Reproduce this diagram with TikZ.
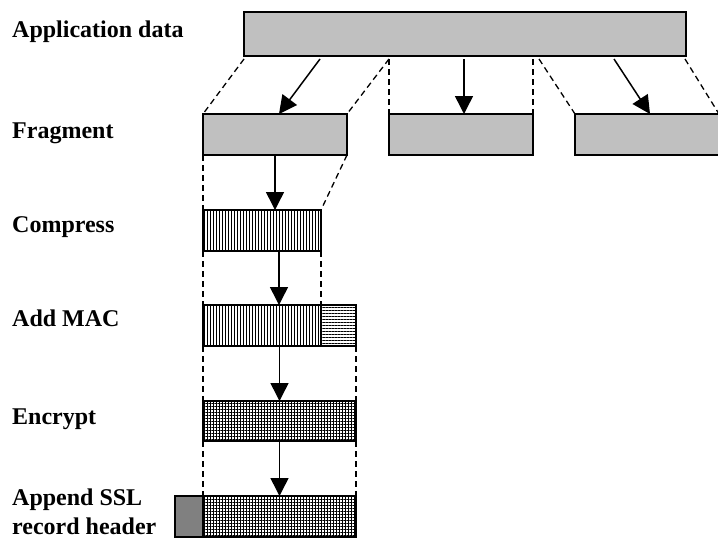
\documentclass[tikz,border=0pt]{standalone}
\usepackage{fontspec}
\setmainfont{Liberation Serif}
\usetikzlibrary{patterns.meta,arrows.meta,calc}
\definecolor{boxgray}{RGB}{192,192,192}
\definecolor{hdrgray}{RGB}{128,128,128}
\begin{document}
\begin{tikzpicture}[x=1pt,y=-1pt,
  blk/.style={draw=black,line width=1.5pt,inner sep=0pt,anchor=north west,outer sep=0pt},
  grayblk/.style={blk,fill=boxgray},
  vblk/.style={blk,fill=white,pattern={Lines[angle=90,distance=3pt,line width=0.45pt]}},
  hblk/.style={blk,fill=white,pattern={Lines[angle=0,distance=3pt,line width=0.45pt]}},
  xblk/.style={blk,fill=white,pattern={Hatch[angle=0,distance=3pt,line width=0.45pt]}},
  lab/.style={anchor=base west,inner sep=0pt,font=\fontsize{24}{29}\selectfont\bfseries,align=left},
  dsh/.style={dash pattern=on 6pt off 4pt,line width=1.3pt},
  arr/.style={line width=1.5pt,-{Triangle[width=18pt,length=18pt]}}
]
\useasboundingbox (0,0) rectangle (718,538);

% labels
\node[lab] (lapp) at (12,37) {Application data};
\node[lab] (lfrag) at (12,138) {Fragment};
\node[lab] (lcomp) at (12,232) {Compress};
\node[lab] (lmac) at (12,326) {Add MAC};
\node[lab] (lenc) at (12,424) {Encrypt};
\node[lab] (lapp2) at (12,534) {Append SSL\\record header};

% boxes
\node[grayblk,minimum width=442pt,minimum height=44pt] (app) at (244,12) {};
\node[grayblk,minimum width=144pt,minimum height=41pt] (f1) at (203,114) {};
\node[grayblk,minimum width=144pt,minimum height=41pt] (f2) at (389,114) {};
\node[grayblk,minimum width=144pt,minimum height=41pt] (f3) at (575,114) {};
\node[vblk,minimum width=118pt,minimum height=41pt] (comp) at (203,210) {};
\node[vblk,minimum width=118pt,minimum height=41pt] (mac1) at (203,305) {};
\node[hblk,minimum width=35pt,minimum height=41pt] (mac2) at (321,305) {};
\node[xblk,minimum width=153pt,minimum height=40pt] (enc) at (203,401) {};
\node[xblk,minimum width=153pt,minimum height=41pt] (rec) at (203,496) {};
\node[blk,fill=hdrgray,minimum width=28pt,minimum height=41pt] (hdr) at (175,496) {};

% free ends on the application data box
\coordinate (d1) at (244,59);
\coordinate (d2) at (389,59);
\coordinate (d3) at (533,59);
\coordinate (d4) at (539,59);
\coordinate (d5) at (685,59);
\coordinate (a1) at (320,59);
\coordinate (a2) at (464,59);
\coordinate (a3) at (614,59);
\coordinate (f3ne) at (719,114);
\coordinate (t1) at (279,114);
\coordinate (t3) at (650,114);

% dashed guides: application data -> fragments
\draw[dsh] (d1) -- (f1.north west);
\draw[dsh] (d2) -- (f1.north east);
\draw[dsh] (d2) -- (f2.north west);
\draw[dsh] (d3) -- (f2.north east);
\draw[dsh] (d4) -- (f3.north west);
\draw[dsh] (d5) -- (f3ne);

% arrows application data -> fragments
\draw[arr] (a1) -- (t1);
\draw[arr] (a2) -- (a2 |- f2.north);
\draw[arr] (a3) -- (t3);

% fragment -> compress
\draw[dsh] (f1.south west) -- (comp.north west);
\draw[dsh] (f1.south east) -- (comp.north east);
\draw[arr] (f1.south) -- (f1.south |- comp.north);

% compress -> add MAC
\coordinate (c2) at (279,251);
\draw[dsh] (comp.south west) -- (mac1.north west);
\draw[dsh] (comp.south east) -- (mac1.north east);
\draw[arr] (c2) -- (c2 |- mac1.north);

% add MAC -> encrypt
\draw[dsh] (mac1.south west) -- (enc.north west);
\draw[dsh] (mac2.south east) -- (enc.north east);
\draw[arr] (enc.north |- mac1.south) -- (enc.north);

% encrypt -> append
\draw[dsh] (enc.south west) -- (rec.north west);
\draw[dsh] (enc.south east) -- (rec.north east);
\draw[arr] (enc.south) -- (rec.north);
\end{tikzpicture}
\end{document}
